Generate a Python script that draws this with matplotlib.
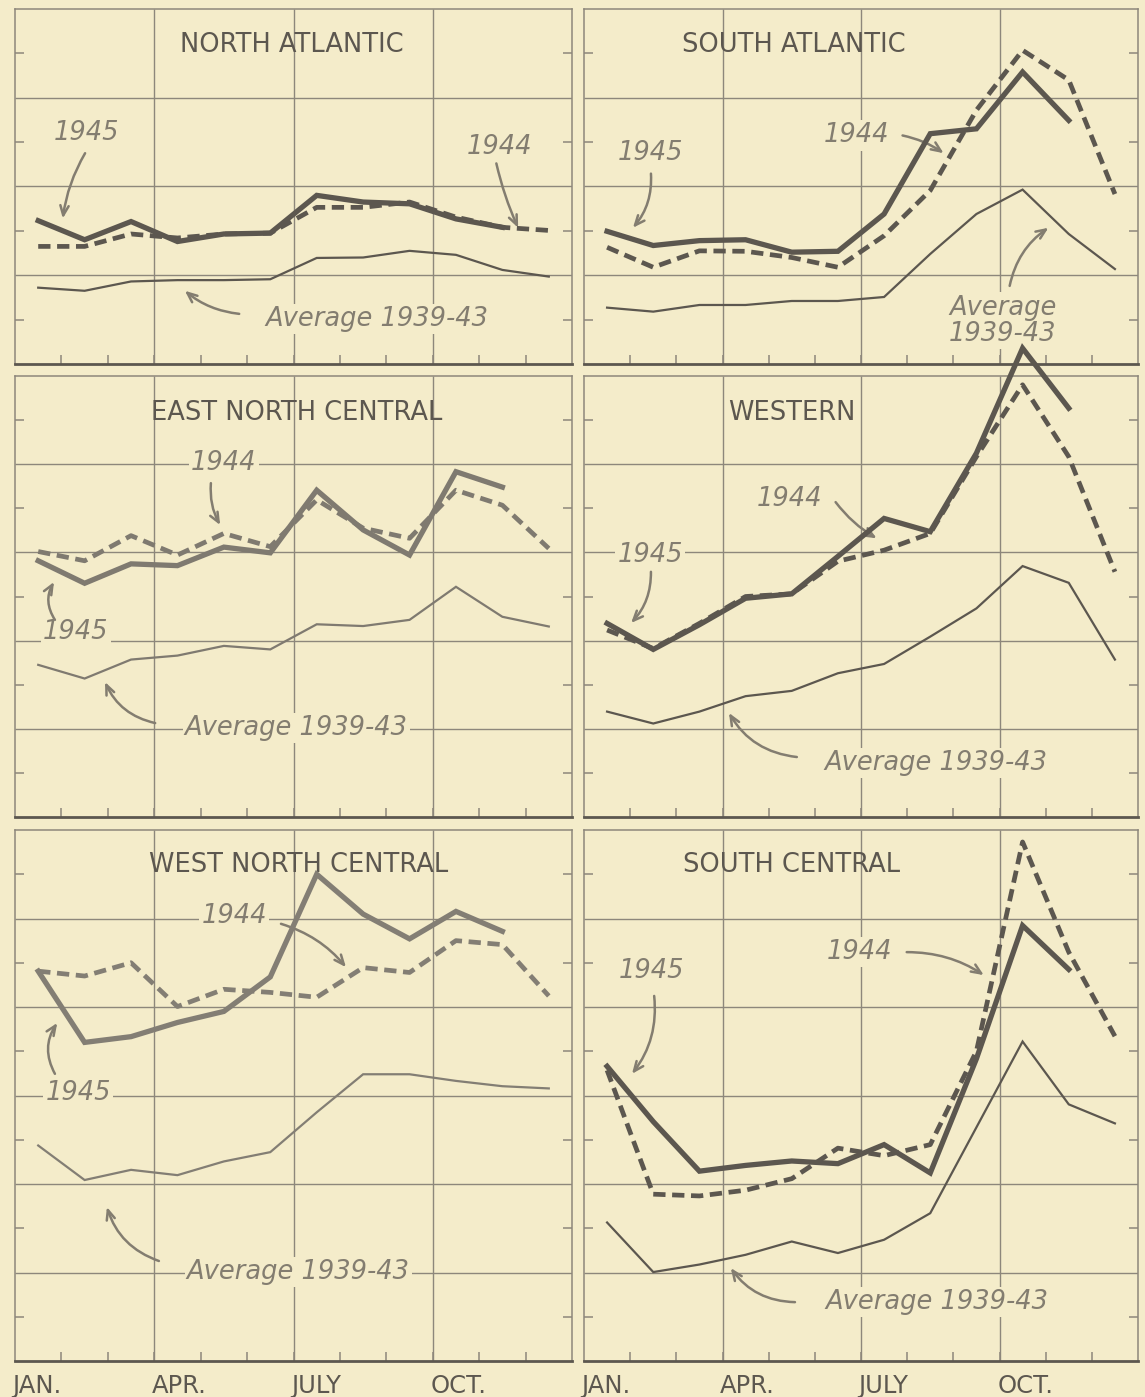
import numpy as np
import matplotlib.pyplot as plt

plt.rcParams['font.family'] = 'DejaVu Sans'

BG = '#f4ecca'
INK = '#5c574f'
GRID = '#8d877b'
LABEL = '#837d70'

# values, in grid units (one unit = half a grid square)
month_labels = ['JAN.', 'APR.', 'JULY', 'OCT.']

na_1945 = [3.23, 2.80, 3.21, 2.76, 2.93, 2.95, 3.80, 3.65, 3.61, 3.27, 3.08]
na_1944 = [2.65, 2.65, 2.93, 2.84, 2.93, 2.95, 3.53, 3.53, 3.65, 3.31, 3.08, 3.01]
na_avg = [1.72, 1.65, 1.86, 1.89, 1.89, 1.91, 2.39, 2.40, 2.55, 2.46, 2.12, 1.97]

sa_1945 = [2.99, 2.67, 2.78, 2.80, 2.52, 2.54, 3.38, 5.19, 5.30, 6.58, 5.49]
sa_1944 = [2.63, 2.18, 2.55, 2.54, 2.40, 2.18, 2.89, 3.91, 5.72, 7.07, 6.40, 3.83]
sa_avg = [1.27, 1.18, 1.33, 1.33, 1.42, 1.42, 1.51, 2.48, 3.38, 3.93, 2.93, 2.14]

enc_1945 = [5.81, 5.30, 5.74, 5.70, 6.12, 5.99, 7.41, 6.51, 5.94, 7.83, 7.48]
enc_1944 = [6.02, 5.81, 6.38, 5.94, 6.43, 6.13, 7.19, 6.55, 6.32, 7.41, 7.07, 6.09]
enc_avg = [3.45, 3.14, 3.57, 3.66, 3.88, 3.80, 4.37, 4.33, 4.47, 5.22, 4.54, 4.32]

we_1945 = [4.39, 3.80, 4.36, 4.96, 5.06, 5.91, 6.77, 6.47, 8.25, 10.63, 9.27]
we_1944 = [4.24, 3.82, 4.39, 5.00, 5.06, 5.80, 6.05, 6.43, 8.17, 9.80, 8.17, 5.56]
we_avg = [2.39, 2.12, 2.39, 2.74, 2.86, 3.26, 3.47, 4.09, 4.73, 5.69, 5.31, 3.57]

wnc_1945 = [8.81, 7.20, 7.33, 7.65, 7.90, 8.68, 11.00, 10.10, 9.54, 10.16, 9.71]
wnc_1944 = [8.81, 8.70, 9.00, 8.01, 8.40, 8.33, 8.22, 8.89, 8.78, 9.50, 9.41, 8.25]
wnc_avg = [4.87, 4.09, 4.32, 4.20, 4.51, 4.72, 5.62, 6.48, 6.48, 6.33, 6.21, 6.16]

sc_1945 = [6.66, 5.41, 4.29, 4.42, 4.52, 4.46, 4.89, 4.25, 6.83, 9.84, 8.85]
sc_1944 = [6.57, 3.77, 3.73, 3.86, 4.12, 4.81, 4.64, 4.89, 7.00, 11.73, 9.24, 7.34]
sc_avg = [3.13, 2.01, 2.18, 2.40, 2.70, 2.44, 2.74, 3.34, 5.28, 7.22, 5.80, 5.37]

W, H = 1145, 1397
fig = plt.figure(figsize=(W / 100, H / 100), dpi=100, facecolor=BG)


def add_panel(x0, x1, y0, y1):
    return fig.add_axes([x0 / W, 1 - y1 / H, (x1 - x0) / W, (y1 - y0) / H])


def setup(ax, top, title, tx, ty):
    ax.set_facecolor(BG)
    ax.set_xlim(0, 12)
    ax.set_ylim(0, top)
    for s in ax.spines.values():
        s.set_color(GRID)
        s.set_linewidth(1.1)
    ax.spines['bottom'].set_color(INK)
    ax.spines['bottom'].set_linewidth(2)
    ax.hlines(np.arange(2, top, 2), 0, 12, color=GRID, lw=1.0, zorder=1)
    ax.vlines([3, 6, 9], 0, top, color=GRID, lw=1.0, zorder=1)
    ax.set_xticks(range(1, 12))
    ax.set_yticks(range(1, top, 2))
    ax.tick_params(axis='x', direction='in', length=6.5, width=1.1, color=GRID,
                   labelbottom=False)
    ax.tick_params(axis='y', direction='in', length=6.5, width=1.1, color=GRID,
                   left=True, right=True, labelleft=False)
    ax.text(tx, ty, title, ha='center', va='center', fontsize=18.5, color=INK,
            zorder=3)


def draw(ax, v45, v44, vavg, col):
    ax.plot(np.arange(len(vavg)) + 0.5, vavg, color=col, lw=1.6, zorder=4,
            clip_on=False, solid_joinstyle='miter')
    ax.plot(np.arange(len(v44)) + 0.5, v44, color=col, lw=3.4, zorder=4,
            dashes=(2.6, 1.4), clip_on=False)
    ax.plot(np.arange(len(v45)) + 0.5, v45, color=col, lw=3.8, zorder=5,
            clip_on=False, solid_joinstyle='miter')


def label(ax, text, pos, start, end, rad):
    ax.text(pos[0], pos[1], text, ha='center', va='center', fontsize=18.5,
            style='italic', color=LABEL, family='DejaVu Sans',
            linespacing=1.0,
            bbox=dict(fc=BG, ec='none', pad=1.5), zorder=3)
    ax.annotate('', xy=end, xytext=start, annotation_clip=False,
                arrowprops=dict(arrowstyle='->,head_length=0.7,head_width=0.3',
                                lw=1.8, color=LABEL, shrinkA=0, shrinkB=0,
                                connectionstyle='arc3,rad=%s' % rad),
                zorder=3)


def months(ax):
    for i, m in enumerate(month_labels):
        ax.text(i * 3 - 0.05, -0.72, m, ha='left', va='baseline',
                fontsize=17.5, color=INK)


# top row
ax = add_panel(15, 572, 9, 364)
setup(ax, 8, 'NORTH ATLANTIC', 5.97, 7.19)
draw(ax, na_1945, na_1944, na_avg, INK)
label(ax, '1945', (1.55, 5.2), (1.51, 4.75), (1.03, 3.28), 0.1)
label(ax, '1944', (10.43, 4.88), (10.37, 4.52), (10.84, 3.07), 0.05)
label(ax, 'Average 1939-43', (7.8, 1.02), (4.83, 1.13), (3.66, 1.65), -0.15)

ax = add_panel(584, 1138, 9, 364)
setup(ax, 8, 'SOUTH ATLANTIC', 4.55, 7.19)
draw(ax, sa_1945, sa_1944, sa_avg, INK)
label(ax, '1945', (1.45, 4.75), (1.45, 4.29), (1.06, 3.07), -0.2)
label(ax, '1944', (5.91, 5.15), (6.9, 5.15), (7.79, 4.75), -0.1)
label(ax, 'Average\n1939-43', (9.07, 0.98), (9.22, 1.76), (10.06, 3.07), -0.2)

# middle row
ax = add_panel(15, 572, 376, 817)
setup(ax, 10, 'EAST NORTH CENTRAL', 6.06, 9.16)
draw(ax, enc_1945, enc_1944, enc_avg, '#7f7a70')
label(ax, '1944', (4.5, 8.03), (4.22, 7.57), (4.42, 6.62), 0.15)
label(ax, '1945', (1.31, 4.2), (0.86, 4.47), (0.84, 5.33), -0.3)
label(ax, 'Average 1939-43', (6.06, 2.02), (3.02, 2.13), (1.94, 3.06), -0.25)

ax = add_panel(584, 1138, 376, 817)
setup(ax, 10, 'WESTERN', 4.5, 9.16)
draw(ax, we_1945, we_1944, we_avg, INK)
label(ax, '1945', (1.43, 5.94), (1.45, 5.56), (1.02, 4.4), -0.2)
label(ax, '1944', (4.46, 7.21), (5.45, 7.14), (6.34, 6.32), 0.1)
label(ax, 'Average 1939-43', (7.62, 1.22), (4.61, 1.36), (3.14, 2.36), -0.25)

# bottom row
ax = add_panel(15, 572, 830, 1361)
setup(ax, 12, 'WEST NORTH CENTRAL', 6.1, 11.21)
draw(ax, wnc_1945, wnc_1944, wnc_avg, '#837e74')
label(ax, '1944', (4.72, 10.06), (5.73, 9.88), (7.13, 8.9), -0.15)
label(ax, '1945', (1.36, 6.06), (0.86, 6.49), (0.91, 7.64), -0.3)
label(ax, 'Average 1939-43', (6.1, 2.01), (3.1, 2.26), (1.98, 3.48), -0.25)
months(ax)

ax = add_panel(584, 1138, 830, 1361)
setup(ax, 12, 'SOUTH CENTRAL', 4.5, 11.21)
draw(ax, sc_1945, sc_1944, sc_avg, INK)
label(ax, '1945', (1.47, 8.81), (1.52, 8.25), (1.04, 6.49), -0.2)
label(ax, '1944', (5.97, 9.24), (6.99, 9.24), (8.66, 8.72), -0.15)
label(ax, 'Average 1939-43', (7.64, 1.33), (4.57, 1.33), (3.18, 2.1), -0.25)
months(ax)

fig.savefig('out.png', dpi=100, facecolor=BG)
